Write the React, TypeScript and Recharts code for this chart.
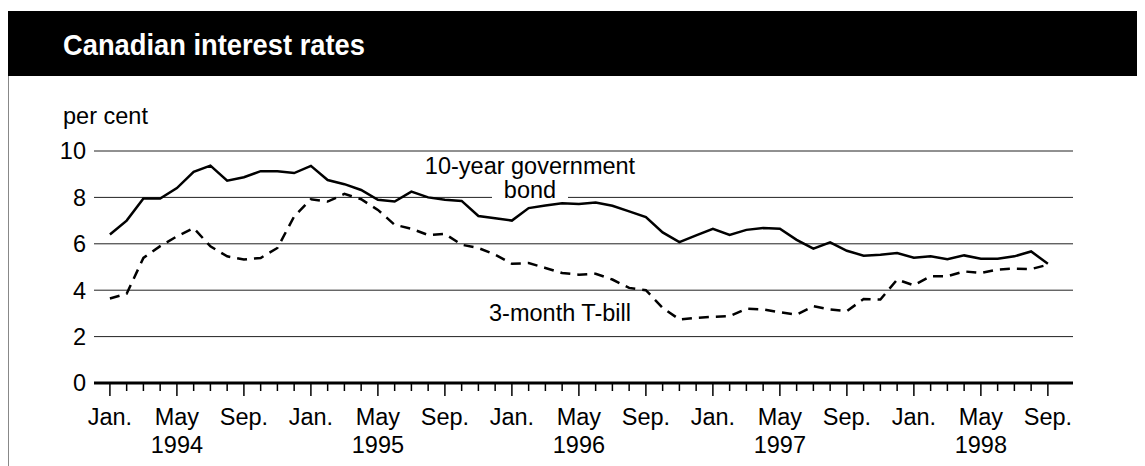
import { LineChart, Line, XAxis, YAxis, CartesianGrid } from "recharts"

// monthly, Jan. 1994 to Sep. 1998
const monthNames = ["Jan.", "Feb.", "Mar.", "Apr.", "May", "Jun.", "Jul.", "Aug.", "Sep.", "Oct.", "Nov.", "Dec."]
const years = [1994, 1995, 1996, 1997, 1998]
const tickMonths = ["Jan.", "May", "Sep."]

const bond = [
  6.4, 7.0, 7.95, 7.95, 8.4, 9.1, 9.37, 8.72, 8.87, 9.13, 9.13, 9.05,
  9.36, 8.75, 8.57, 8.32, 7.9, 7.82, 8.25, 8.0, 7.9, 7.85, 7.2, 7.1,
  7.0, 7.54, 7.65, 7.75, 7.72, 7.78, 7.64, 7.4, 7.15, 6.49, 6.07, 6.36,
  6.65, 6.38, 6.6, 6.68, 6.65, 6.17, 5.79, 6.06, 5.7, 5.49, 5.53, 5.6,
  5.4, 5.46, 5.34, 5.5, 5.36, 5.36, 5.46, 5.67, 5.14,
]
const tbill = [
  3.64, 3.85, 5.39, 5.9, 6.32, 6.68, 5.89, 5.46, 5.32, 5.39, 5.82, 7.18,
  7.92, 7.82, 8.15, 7.92, 7.46, 6.82, 6.65, 6.38, 6.43, 5.96, 5.82, 5.53,
  5.14, 5.17, 4.96, 4.74, 4.67, 4.71, 4.46, 4.1, 4.0, 3.24, 2.74, 2.81,
  2.85, 2.88, 3.2, 3.17, 3.05, 2.95, 3.31, 3.17, 3.1, 3.62, 3.6, 4.46,
  4.21, 4.6, 4.6, 4.81, 4.74, 4.89, 4.93, 4.91, 5.1,
]
const yTicks = [0, 2, 4, 6, 8, 10]

const data = bond.map((b, i) => ({
  i,
  month: monthNames[i % 12],
  year: years[Math.floor(i / 12)],
  bond: b,
  tbill: tbill[i],
}))

const font = "'Liberation Sans', Arial, sans-serif"
const textStyle = { fontFamily: font, fontSize: 23.5 }
const labelStyle = { position: "absolute" as const, textAlign: "center" as const, fontSize: 23.5, lineHeight: "27px", whiteSpace: "nowrap" as const }

function MonthTick(props: any) {
  const { x, y, payload } = props
  const d = data[payload.value]
  if (!d) return null
  const major = tickMonths.includes(d.month)
  return (
    <g>
      <line x1={x} x2={x} y1={y} y2={y + (major ? 13 : 8)} stroke="#000" strokeWidth={1.5} />
      {major && (
        <text x={x} y={y + 42} textAnchor="middle" fill="#000" style={textStyle}>
          {d.month}
        </text>
      )}
      {d.month === "May" && (
        <text x={x} y={y + 70} textAnchor="middle" fill="#000" style={textStyle}>
          {d.year}
        </text>
      )}
    </g>
  )
}

export default function App() {
  return (
    <div style={{ position: "relative", width: 1137, height: 458, fontFamily: font, overflow: "hidden" }}>
      <div style={{ position: "absolute", left: 0, top: 3, width: 1137, height: 65, background: "#000" }} />
      <div
        style={{
          position: "absolute",
          left: 55,
          top: 18,
          color: "#fff",
          fontWeight: "bold",
          fontSize: 30,
          lineHeight: "38px",
          whiteSpace: "nowrap",
          transform: "scaleX(0.91)",
          transformOrigin: "left center",
        }}
      >
        Canadian interest rates
      </div>
      <div style={{ position: "absolute", left: 0, top: 68, width: 1, height: 400, background: "#888" }} />
      <LineChart width={1137} height={458} data={data} margin={{ top: 143, right: 72, bottom: 8, left: 26 }}>
        <CartesianGrid horizontal vertical={false} stroke="#222" strokeWidth={1} />
        <XAxis
          dataKey="i"
          type="number"
          domain={[-0.95, 57.5]}
          ticks={data.map((d) => d.i)}
          interval={0}
          height={75}
          tickSize={0}
          tickMargin={0}
          tickLine={false}
          axisLine={{ stroke: "#000", strokeWidth: 3 }}
          tick={<MonthTick />}
        />
        <YAxis
          type="number"
          domain={[0, 10]}
          ticks={yTicks}
          width={60}
          tickLine={false}
          axisLine={false}
          tick={{ fill: "#000", ...textStyle }}
        />
        <Line dataKey="tbill" stroke="#000" strokeWidth={2.5} strokeDasharray="10 7" dot={false} isAnimationActive={false} />
        <Line dataKey="bond" stroke="#000" strokeWidth={2.5} dot={false} isAnimationActive={false} />
      </LineChart>
      <div style={{ ...labelStyle, left: 55, top: 95, textAlign: "left" }}>per cent</div>
      <div style={{ ...labelStyle, left: 372, top: 145, width: 300 }}>10-year government</div>
      <div style={{ ...labelStyle, left: 484, top: 172, width: 76, lineHeight: "20px", background: "#fff" }}>bond</div>
      <div style={{ ...labelStyle, left: 452, top: 292, width: 200 }}>3-month T-bill</div>
    </div>
  )
}
